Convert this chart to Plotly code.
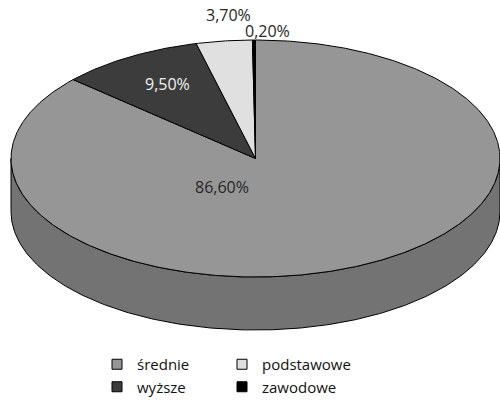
import numpy as np
import plotly.graph_objects as go

# Education structure (share of respondents, %)
categories = ["średnie", "wyższe", "podstawowe", "zawodowe"]
shares = [86.6, 9.5, 3.7, 0.2]

top_colors = ["#969696", "#3c3c3c", "#e0e0e0", "#000000"]
side_colors = ["#737373", "#2a2a2a", "#b4b4b4", "#000000"]
label_colors = ["#262626", "#f2f2f2", "#262626", "#262626"]
legend_ids = ["legend", "legend", "legend2", "legend2"]

# Pixel-space anchors for the percentage labels
label_pos = [(222, 187), (167, 84), (228, 15), (267, 31)]

FONT = "Open Sans"
W, H = 500, 403

# Ellipse of the pie's top face and the height of the wall
CX, CY, RX, RY, DEPTH = 255.5, 158.5, 244.5, 118.5, 53.0


def rim(t_deg):
    """Point on the top ellipse; angle measured clockwise from 12 o'clock."""
    r = np.radians(t_deg)
    return CX + RX * np.sin(r), CY - RY * np.cos(r)


total = float(sum(shares))
bounds = np.concatenate([[0.0], np.cumsum(shares) / total * 360.0])

fig = go.Figure()

# Side walls: only the front half of the rim (90..270 degrees) is visible
for i, cat in enumerate(categories):
    a0, a1 = max(bounds[i], 90.0), min(bounds[i + 1], 270.0)
    if a1 <= a0:
        continue
    t = np.linspace(a0, a1, 240)
    x, y = rim(t)
    xs = np.concatenate([x, x[::-1], x[:1]])
    ys = np.concatenate([y, y[::-1] + DEPTH, y[:1]])
    fig.add_trace(go.Scatter(
        x=xs, y=ys, mode="lines", fill="toself",
        fillcolor=side_colors[i], line=dict(color="black", width=1),
        hoverinfo="skip", showlegend=False,
    ))

# Top faces of the slices
for i, cat in enumerate(categories):
    a0, a1 = bounds[i], bounds[i + 1]
    n = max(int((a1 - a0) * 2), 4)
    t = np.linspace(a0, a1, n)
    x, y = rim(t)
    xs = np.concatenate([[CX], x, [CX]])
    ys = np.concatenate([[CY], y, [CY]])
    fig.add_trace(go.Scatter(
        x=xs, y=ys, mode="lines", fill="toself",
        fillcolor=top_colors[i], line=dict(color="black", width=1),
        name=cat, hoverinfo="name", showlegend=False,
    ))

# Legend entries (two columns -> two legends)
for i, cat in enumerate(categories):
    fig.add_trace(go.Scatter(
        x=[None], y=[None], mode="markers", name=cat,
        marker=dict(symbol="square", size=10, color=top_colors[i],
                    line=dict(color="black", width=1)),
        legend=legend_ids[i], showlegend=True,
    ))

# Percentage labels
for i, v in enumerate(shares):
    txt = f"{v:.2f}%".replace(".", ",")
    fig.add_annotation(
        x=label_pos[i][0], y=label_pos[i][1], text=txt, showarrow=False,
        xref="x", yref="y", xanchor="center", yanchor="middle",
        font=dict(family=FONT, size=16, color=label_colors[i]),
    )

legend_common = dict(
    orientation="v", xanchor="left", yanchor="bottom",
    font=dict(family=FONT, size=15, color="#111111"),
    bgcolor="rgba(0,0,0,0)", borderwidth=0, itemwidth=30,
    tracegroupgap=0, itemclick=False, itemdoubleclick=False,
)

fig.update_layout(
    width=W, height=H,
    margin=dict(l=0, r=0, t=0, b=0),
    paper_bgcolor="white", plot_bgcolor="white",
    xaxis=dict(range=[0, W], visible=False, fixedrange=True),
    yaxis=dict(range=[H, 0], visible=False, fixedrange=True),
    legend=dict(x=97 / W, y=0, **legend_common),
    legend2=dict(x=222 / W, y=0, **legend_common),
    font=dict(family=FONT),
    showlegend=True,
)

fig.write_html("out.html")
